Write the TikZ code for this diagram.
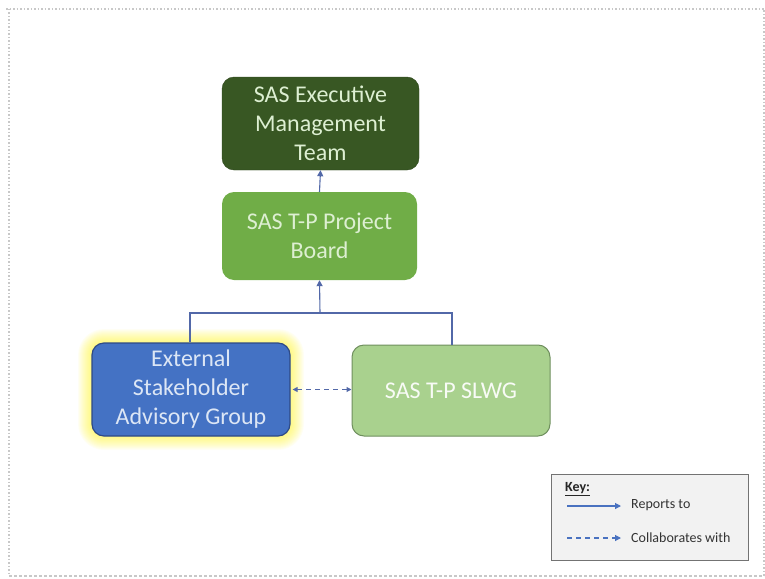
\documentclass[tikz,border=0pt]{standalone}
\usepackage{fontspec}
\setmainfont{Carlito}
\usetikzlibrary{arrows.meta}
\definecolor{execgreen}{HTML}{385723}
\definecolor{boardgreen}{HTML}{70AD47}
\definecolor{slwggreen}{HTML}{A9D18E}
\definecolor{extblue}{HTML}{4472C4}
\definecolor{extedge}{HTML}{2E4A86}
\definecolor{slwgedge}{HTML}{6F8F5E}
\definecolor{linkblue}{HTML}{5268A8}
\definecolor{keyblue}{HTML}{4A72C0}
\definecolor{framegrey}{HTML}{C8C8C8}
\definecolor{paletext}{HTML}{DDEFD2}
\definecolor{bluetext}{HTML}{DCE6F5}
\tikzset{
  x=1pt, y=-1pt,
  orgbox/.style={rounded corners=12pt, minimum width=197pt, align=center,
    font=\fontsize{24}{29}\selectfont, inner sep=0pt},
  link/.style={linkblue, line width=1.1pt},
  tip/.style={-{Triangle[length=6pt,width=6pt]}},
  keytext/.style={anchor=west, font=\fontsize{14}{16}\selectfont, text=black!80, inner sep=0pt}
}
\begin{document}
\begin{tikzpicture}
\useasboundingbox (0,0) rectangle (765,578);
% page frame
\draw[framegrey, line width=1.5pt, dotted] (6,9) -- (764,9) -- (764,576);
\draw[framegrey, line width=1.5pt, dotted] (9,9) -- (9,576);
\draw[framegrey, line width=1.2pt, dashed, dash pattern=on 3pt off 2pt] (9,576) -- (764,576);

% soft yellow glow behind the advisory group box
\foreach \g in {1,...,14}{
  \fill[yellow, opacity=0.045, rounded corners=12pt+\g pt]
    (92-\g,343-\g) rectangle (290+\g,436+\g);
}

% boxes
\node[orgbox, fill=execgreen, draw=execgreen!80!black, minimum height=93pt, text=paletext]
  (exec) at (320.5,123.5) {SAS Executive\\Management\\Team};
\node[orgbox, fill=boardgreen, minimum height=88pt, minimum width=195pt, text=paletext]
  (board) at (319.5,236) {SAS T-P Project\\Board};
\node[orgbox, fill=extblue, draw=extedge, line width=1.2pt, minimum height=93pt, minimum width=198pt, text=bluetext]
  (ext) at (191,389.5) {External\\Stakeholder\\Advisory Group};
\node[orgbox, fill=slwggreen, draw=slwgedge, line width=1pt, minimum height=91pt, minimum width=198pt, text=white!92!slwggreen]
  (slwg) at (451,390.5) {SAS T-P SLWG};

% reporting lines
\coordinate (join) at (320,313);
\draw[link, tip] (board.north) -- (exec.south);
\draw[link] (ext.north -| 190,0) |- (join) -| (slwg.north -| 452,0);
\draw[link, tip] (join) -- (board.south);

% collaboration
\draw[link, dashed, dash pattern=on 5pt off 4pt,
  {Triangle[length=5pt,width=5pt]}-{Triangle[length=5pt,width=5pt]}]
  (ext.east) ++(2,0) coordinate (c1) -- (slwg.west |- c1);

% key
\node[draw=black!55, fill=black!5, line width=1pt, minimum width=197pt, minimum height=86pt, inner sep=0pt]
  (key) at (649.5,517) {};
\node[anchor=west, font=\fontsize{14}{16}\selectfont\bfseries, text=black!85, inner sep=0pt]
  (keytitle) at (565,489) {\underline{Key:}};
\coordinate (k1a) at (567,506);
\coordinate (k1b) at (621,506);
\coordinate (k2a) at (567,538);
\coordinate (k2b) at (621,538);
\draw[keyblue, line width=1.1pt, tip] (k1a) -- (k1b);
\draw[keyblue, line width=1.1pt, dashed, dash pattern=on 5pt off 4pt, tip] (k2a) -- (k2b);
\node[keytext] (rep) at (631,505) {Reports to};
\node[keytext] (col) at (631,538) {Collaborates with};
\end{tikzpicture}
\end{document}
